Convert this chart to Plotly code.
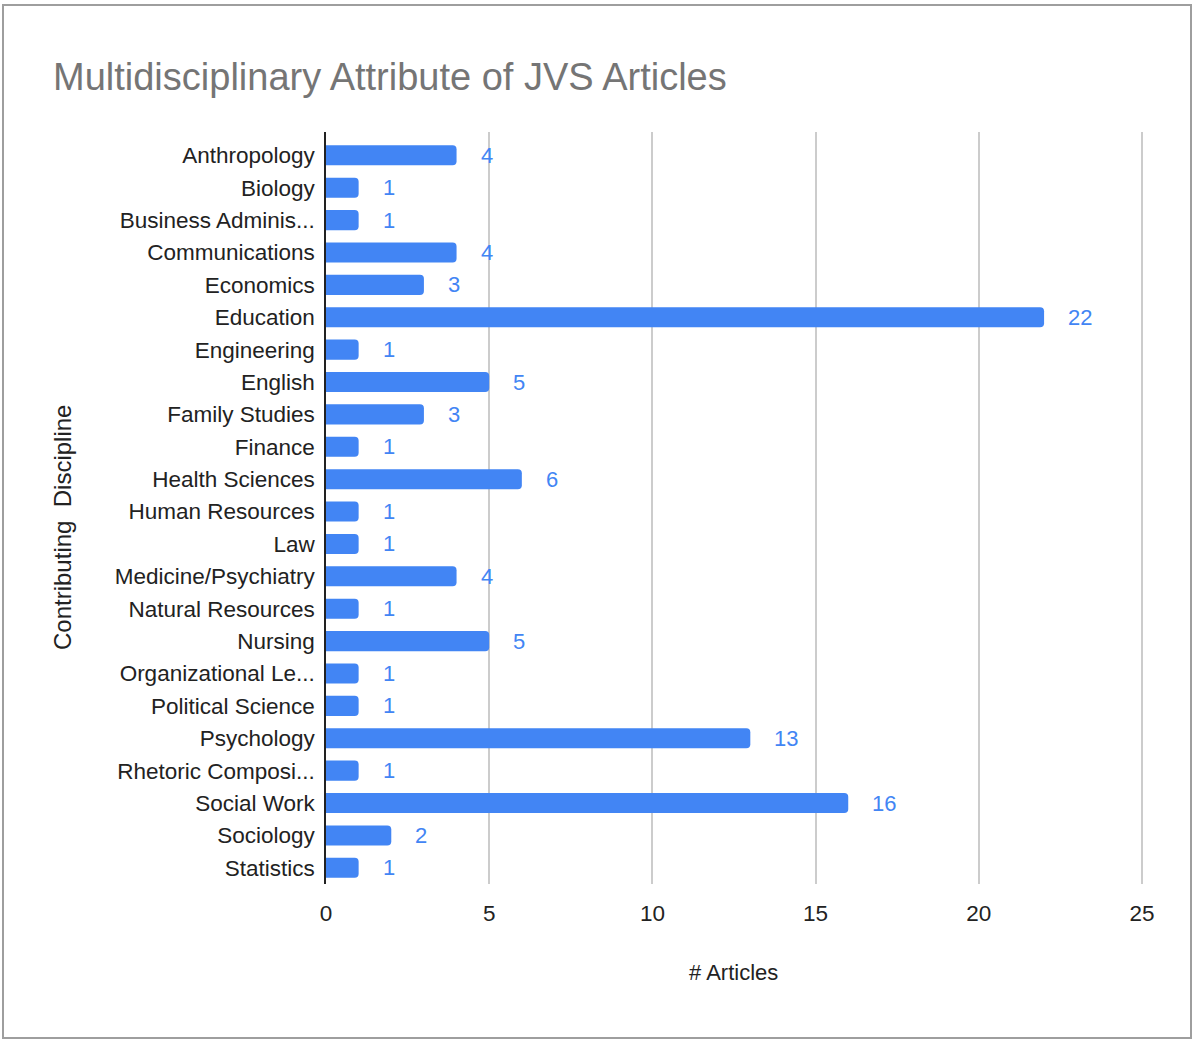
import plotly.graph_objects as go

categories = [
    "Anthropology", "Biology", "Business Adminis...", "Communications", "Economics",
    "Education", "Engineering", "English", "Family Studies", "Finance",
    "Health Sciences", "Human Resources", "Law", "Medicine/Psychiatry",
    "Natural Resources", "Nursing", "Organizational Le...", "Political Science",
    "Psychology", "Rhetoric Composi...", "Social Work", "Sociology", "Statistics",
]
articles = [4, 1, 1, 4, 3, 22, 1, 5, 3, 1, 6, 1, 1, 4, 1, 5, 1, 1, 13, 1, 16, 2, 1]
x_ticks = [0, 5, 10, 15, 20, 25]

BLUE = "#4285F4"
FONT = "Liberation Sans, Arial, sans-serif"

W, H = 1200, 1046
L, R, T, B = 326, 1146, 132, 884
pw, ph = R - L, B - T
px_per_unit = (1142 - L) / 25.0
x_max = pw / px_per_unit

fig = go.Figure()
fig.add_trace(go.Bar(
    x=articles, y=categories, orientation="h",
    marker=dict(color=BLUE, line=dict(width=0)),
    width=0.62, hoverinfo="x+y",
))

annotations = []
for c, v in zip(categories, articles):
    annotations.append(dict(
        x=v, y=c, xref="x", yref="y", text=str(v), showarrow=False,
        xanchor="left", yanchor="middle", xshift=22,
        font=dict(family=FONT, size=22, color=BLUE),
    ))

# axis titles
annotations.append(dict(
    x=(733 - L) / pw, y=-(972 - B) / ph, xref="paper", yref="paper", text="# Articles",
    showarrow=False, xanchor="center", yanchor="middle",
    font=dict(family=FONT, size=22, color="#222222"),
))
annotations.append(dict(
    x=-(L - 62) / pw, y=(B - 528) / ph, xref="paper", yref="paper",
    text="Contributing  Discipline", textangle=-90,
    showarrow=False, xanchor="center", yanchor="middle",
    font=dict(family=FONT, size=24, color="#222222"),
))

fig.update_layout(
    width=W, height=H,
    margin=dict(l=L, r=W - R, t=T, b=H - B, pad=0),
    paper_bgcolor="white", plot_bgcolor="white",
    showlegend=False,
    barcornerradius=4,
    title=dict(
        text="Multidisciplinary Attribute of JVS Articles",
        xref="container", yref="container",
        x=53 / W, y=1 - 77 / H, xanchor="left", yanchor="middle",
        font=dict(family=FONT, size=38, color="#757575"),
    ),
    xaxis=dict(
        range=[0, x_max], tickvals=x_ticks, ticktext=[str(t) for t in x_ticks],
        showgrid=True, gridcolor="#cccccc", gridwidth=1.5,
        zeroline=False, showline=False,
        ticks="outside", ticklen=9, tickcolor="rgba(0,0,0,0)",
        tickfont=dict(family=FONT, size=22.5, color="#222222"),
    ),
    yaxis=dict(
        type="category", categoryorder="array", categoryarray=categories,
        range=[22.5, -0.72],
        showgrid=False, zeroline=False,
        showline=True, linecolor="#222222", linewidth=1.5,
        ticks="outside", ticklen=5, tickcolor="rgba(0,0,0,0)",
        tickfont=dict(family=FONT, size=22.5, color="#222222"),
    ),
    annotations=annotations,
    shapes=[dict(
        type="rect", xref="paper", yref="paper",
        x0=(3 - L) / pw, x1=(1191 - L) / pw,
        y0=(B - 1038) / ph, y1=(B - 5) / ph,
        line=dict(color="#9e9e9e", width=2), fillcolor="rgba(0,0,0,0)",
        layer="below",
    )],
)

fig.write_html(
    "out.html",
    config={"displayModeBar": False},
    post_script="document.body.style.margin='0';document.body.style.overflow='hidden';",
)
